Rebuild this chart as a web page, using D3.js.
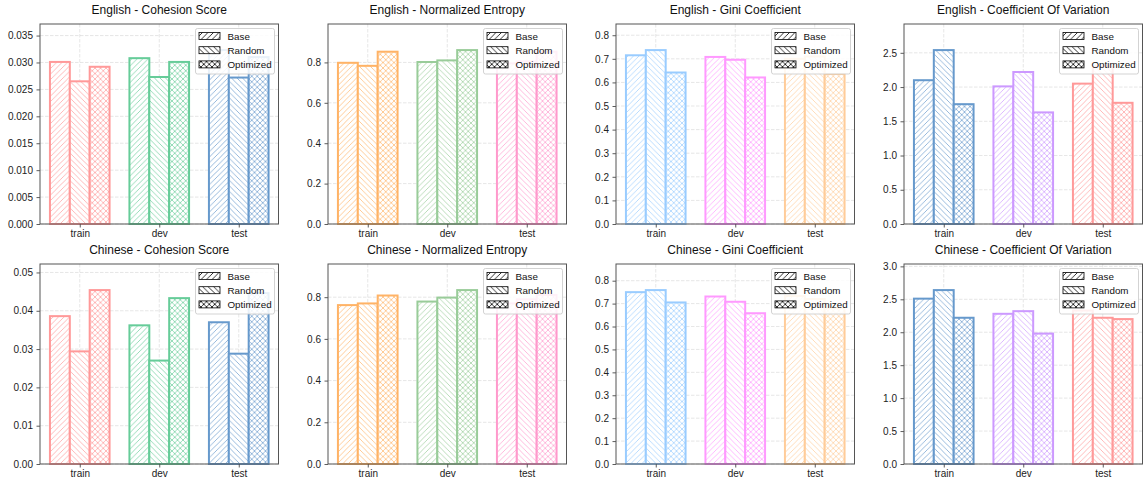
<!DOCTYPE html>
<html>
<head>
<meta charset="utf-8">
<script src="https://cdn.jsdelivr.net/npm/d3@7/dist/d3.min.js"></script>
<style>
    body { margin: 0; background: #fff; }
    svg { font-family: "Liberation Sans", Arial, Helvetica, sans-serif; }
</style>
</head>
<body>
<div id="chart"></div>
<script>
var categories = ["train", "dev", "test"];
var methods = ["Base", "Random", "Optimized"];

// each array: train, dev, test
var enCohesionBase = [0.0301, 0.0308, 0.0323];
var enCohesionRandom = [0.0265, 0.0273, 0.0272];
var enCohesionOptimized = [0.0292, 0.0301, 0.0310];

var enEntropyBase = [0.798, 0.802, 0.795];
var enEntropyRandom = [0.783, 0.810, 0.805];
var enEntropyOptimized = [0.853, 0.861, 0.853];

var enGiniBase = [0.715, 0.708, 0.700];
var enGiniRandom = [0.737, 0.696, 0.710];
var enGiniOptimized = [0.642, 0.621, 0.636];

var enVariationBase = [2.10, 2.01, 2.05];
var enVariationRandom = [2.54, 2.22, 2.30];
var enVariationOptimized = [1.75, 1.63, 1.77];

var zhCohesionBase = [0.0386, 0.0362, 0.0370];
var zhCohesionRandom = [0.0294, 0.0270, 0.0288];
var zhCohesionOptimized = [0.0454, 0.0433, 0.0446];

var zhEntropyBase = [0.762, 0.779, 0.770];
var zhEntropyRandom = [0.770, 0.798, 0.790];
var zhEntropyOptimized = [0.808, 0.834, 0.811];

var zhGiniBase = [0.750, 0.731, 0.733];
var zhGiniRandom = [0.759, 0.708, 0.720];
var zhGiniOptimized = [0.705, 0.658, 0.680];

var zhVariationBase = [2.51, 2.28, 2.33];
var zhVariationRandom = [2.64, 2.32, 2.22];
var zhVariationOptimized = [2.22, 1.98, 2.20];

// y tick values per panel
var ticksCohesionEn = [0, 0.005, 0.01, 0.015, 0.02, 0.025, 0.03, 0.035];
var ticksCohesionZh = [0, 0.01, 0.02, 0.03, 0.04, 0.05];
var ticksEntropy = [0, 0.2, 0.4, 0.6, 0.8];
var ticksGini = [0, 0.1, 0.2, 0.3, 0.4, 0.5, 0.6, 0.7, 0.8];
var ticksVariationEn = [0, 0.5, 1, 1.5, 2, 2.5];
var ticksVariationZh = [0, 0.5, 1, 1.5, 2, 2.5, 3];

var cohesionColors = ["#ff9999", "#66cc99", "#6699cc"];
var entropyColors = ["#ffb366", "#99cc99", "#ff99cc"];
var giniColors = ["#99ccff", "#ff99ff", "#ffcc99"];
var variationColors = ["#6699cc", "#cc99ff", "#ff9999"];
var hatches = ["fwd", "back", "cross"];

var panels = [
    {title: "English - Cohesion Score", values: [enCohesionBase, enCohesionRandom, enCohesionOptimized], ticks: ticksCohesionEn, fmt: ".3f", colors: cohesionColors},
    {title: "English - Normalized Entropy", values: [enEntropyBase, enEntropyRandom, enEntropyOptimized], ticks: ticksEntropy, fmt: ".1f", colors: entropyColors},
    {title: "English - Gini Coefficient", values: [enGiniBase, enGiniRandom, enGiniOptimized], ticks: ticksGini, fmt: ".1f", colors: giniColors},
    {title: "English - Coefficient Of Variation", values: [enVariationBase, enVariationRandom, enVariationOptimized], ticks: ticksVariationEn, fmt: ".1f", colors: variationColors},
    {title: "Chinese - Cohesion Score", values: [zhCohesionBase, zhCohesionRandom, zhCohesionOptimized], ticks: ticksCohesionZh, fmt: ".2f", colors: cohesionColors},
    {title: "Chinese - Normalized Entropy", values: [zhEntropyBase, zhEntropyRandom, zhEntropyOptimized], ticks: ticksEntropy, fmt: ".1f", colors: entropyColors},
    {title: "Chinese - Gini Coefficient", values: [zhGiniBase, zhGiniRandom, zhGiniOptimized], ticks: ticksGini, fmt: ".1f", colors: giniColors},
    {title: "Chinese - Coefficient Of Variation", values: [zhVariationBase, zhVariationRandom, zhVariationOptimized], ticks: ticksVariationZh, fmt: ".1f", colors: variationColors}
];

var width = 1145, height = 481;
var axW = 238.5, axH = 200;
var barWidth = 0.25;
var hatchStep = 5.5;

var svg = d3.select("#chart").append("svg")
    .attr("width", width)
    .attr("height", height);

svg.append("rect").attr("width", width).attr("height", height).attr("fill", "#fff");

var defs = svg.append("defs");

function hatchPath(kind, s) {
    var fwd = "M0," + s + "L" + s + ",0" +
        "M" + (-s / 2) + "," + (s / 2) + "L" + (s / 2) + "," + (-s / 2) +
        "M" + (s / 2) + "," + (1.5 * s) + "L" + (1.5 * s) + "," + (s / 2);
    var back = "M0,0L" + s + "," + s +
        "M" + (-s / 2) + "," + (s / 2) + "L" + (s / 2) + "," + (1.5 * s) +
        "M" + (s / 2) + "," + (-s / 2) + "L" + (1.5 * s) + "," + (s / 2);
    if (kind === "fwd") return fwd;
    if (kind === "back") return back;
    return fwd + back;
}

var patternIds = {};
function patternFor(color, kind, lw, op) {
    var id = "p-" + color.replace("#", "") + "-" + kind;
    if (patternIds[id]) return "url(#" + id + ")";
    patternIds[id] = true;
    var p = defs.append("pattern")
        .attr("id", id)
        .attr("patternUnits", "userSpaceOnUse")
        .attr("width", hatchStep)
        .attr("height", hatchStep);
    p.append("rect").attr("width", hatchStep).attr("height", hatchStep).attr("fill", "#fff");
    p.append("path")
        .attr("d", hatchPath(kind, hatchStep))
        .attr("stroke", color)
        .attr("stroke-opacity", op)
        .attr("stroke-width", lw)
        .attr("fill", "none");
    return "url(#" + id + ")";
}

function drawPanel(p, i) {
    var row = Math.floor(i / 4), col = i % 4;
    var left = 40 + col * 288, top = 24 + row * 240;
    var g = svg.append("g").attr("transform", "translate(" + left + "," + top + ")");

    var allValues = d3.merge(p.values);
    var x = d3.scaleLinear().domain([-0.5, 2.5]).range([0, axW]);
    var y = d3.scaleLinear().domain([0, d3.max(allValues) * 1.15]).range([axH, 0]);

    // grid
    var grid = g.append("g").attr("class", "grid");
    grid.selectAll("line.h").data(p.ticks).enter().append("line")
        .attr("x1", 0).attr("x2", axW)
        .attr("y1", function (d) { return y(d); })
        .attr("y2", function (d) { return y(d); });
    grid.selectAll("line.v").data(categories).enter().append("line")
        .attr("x1", function (d, k) { return x(k); })
        .attr("x2", function (d, k) { return x(k); })
        .attr("y1", 0).attr("y2", axH);
    grid.selectAll("line")
        .attr("stroke", "#b0b0b0")
        .attr("stroke-opacity", 0.4)
        .attr("stroke-width", 0.8)
        .attr("stroke-dasharray", "3.5,1.5");

    // bars
    p.values.forEach(function (series, m) {
        g.append("g").selectAll("rect").data(series).enter().append("rect")
            .attr("x", function (d, k) { return x(k + (m - 1) * barWidth - barWidth / 2); })
            .attr("width", x(barWidth) - x(0))
            .attr("y", function (d) { return y(d); })
            .attr("height", function (d) { return axH - y(d); })
            .attr("fill", function (d, k) { return patternFor(p.colors[k], hatches[m], 0.8, 0.85); })
            .attr("stroke", function (d, k) { return p.colors[k]; })
            .attr("stroke-width", 2);
    });

    // axes
    var yAxis = d3.axisLeft(y).tickValues(p.ticks).tickFormat(d3.format(p.fmt))
        .tickSize(3.5).tickPadding(3.5);
    var xAxis = d3.axisBottom(x).tickValues([0, 1, 2])
        .tickFormat(function (d) { return categories[d]; })
        .tickSize(3.5).tickPadding(2.5);

    var ya = g.append("g").call(yAxis);
    var xa = g.append("g").attr("transform", "translate(0," + axH + ")").call(xAxis);
    [ya, xa].forEach(function (a) {
        a.select(".domain").remove();
        a.selectAll("line").attr("stroke", "#333").attr("stroke-width", 0.8);
        a.selectAll("text").attr("fill", "#222").style("font-size", "10px");
        a.attr("font-family", null);
    });

    g.append("rect")
        .attr("width", axW).attr("height", axH)
        .attr("fill", "none")
        .attr("stroke", "#555")
        .attr("stroke-width", 1);

    g.append("text")
        .attr("x", axW / 2).attr("y", -10)
        .attr("text-anchor", "middle")
        .attr("fill", "#111")
        .style("font-size", "12px")
        .text(p.title);

    // legend
    var lgW = 79, lgH = 45.5;
    var lg = g.append("g").attr("transform", "translate(" + (axW - 4 - lgW) + ",4.5)");
    lg.append("rect")
        .attr("width", lgW).attr("height", lgH)
        .attr("rx", 2)
        .attr("fill", "#fff").attr("fill-opacity", 0.85)
        .attr("stroke", "#c8c8c8").attr("stroke-width", 0.8);
    methods.forEach(function (name, m) {
        var cy = 7.5 + m * 14.2;
        lg.append("rect")
            .attr("x", 3.5).attr("y", cy - 3.5)
            .attr("width", 21).attr("height", 7)
            .attr("fill", patternFor("#000000", hatches[m], 0.8, 1))
            .attr("stroke", "#000").attr("stroke-width", 0.8);
        lg.append("text")
            .attr("x", 32).attr("y", cy + 3.5)
            .attr("fill", "#111")
            .style("font-size", "9.8px")
            .text(name);
    });
}

panels.forEach(drawPanel);
</script>
</body>
</html>
